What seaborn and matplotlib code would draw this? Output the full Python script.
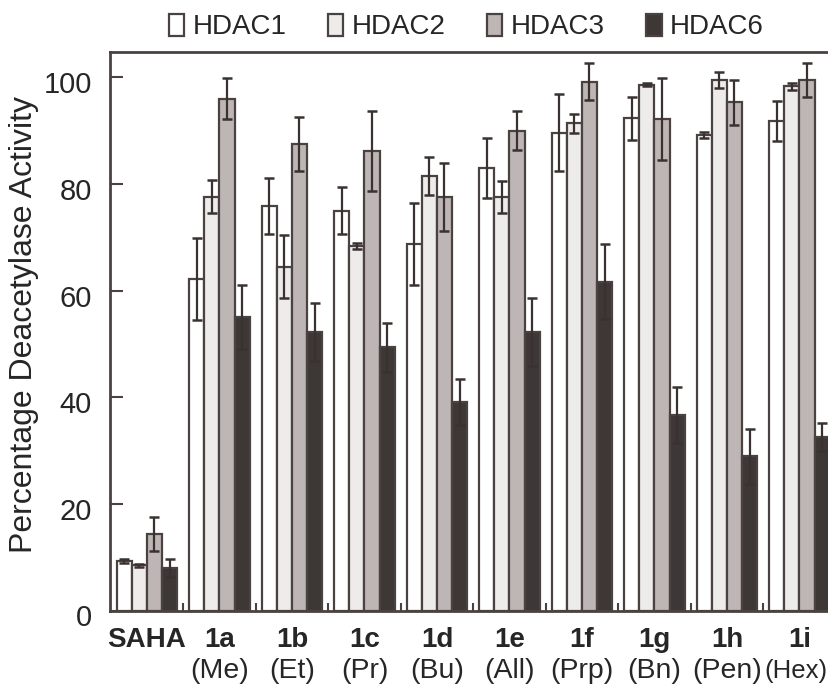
import matplotlib
matplotlib.use("Agg")
import matplotlib.pyplot as plt
import matplotlib.transforms as mtransforms
import seaborn as sns
import pandas as pd

# Chart values
compounds = ["SAHA", "1a", "1b", "1c", "1d", "1e", "1f", "1g", "1h", "1i"]
substituents = ["", "(Me)", "(Et)", "(Pr)", "(Bu)", "(All)", "(Prp)", "(Bn)", "(Pen)", "(Hex)"]
enzymes = ["HDAC1", "HDAC2", "HDAC3", "HDAC6"]

hdac1 = [9.3, 62.1, 75.9, 75.0, 68.8, 83.0, 89.6, 92.3, 89.2, 91.8]
hdac1_err = [0.3, 7.7, 5.3, 4.4, 7.7, 5.6, 7.2, 4.0, 0.5, 3.8]
hdac2 = [8.5, 77.6, 64.5, 68.4, 81.5, 77.6, 91.4, 98.6, 99.5, 98.3]
hdac2_err = [0.3, 3.1, 5.9, 0.6, 3.5, 3.0, 1.8, 0.3, 1.5, 0.7]
hdac3 = [14.3, 96.0, 87.5, 86.1, 77.6, 90.0, 99.2, 92.2, 95.3, 99.5]
hdac3_err = [3.2, 3.9, 5.0, 7.5, 6.4, 3.6, 3.5, 7.7, 4.2, 3.2]
hdac6 = [8.0, 55.0, 52.2, 49.4, 39.1, 52.2, 61.7, 36.7, 28.9, 32.6]
hdac6_err = [1.7, 6.0, 5.5, 4.6, 4.3, 6.4, 7.1, 5.2, 5.2, 2.6]

colors = ["#ffffff", "#eeeaea", "#bfb5b4", "#3e3634"]
edge = "#4a4240"

# long-form table for seaborn
values = [hdac1, hdac2, hdac3, hdac6]
errors = [hdac1_err, hdac2_err, hdac3_err, hdac6_err]
rows = []
for enz, vals, errs in zip(enzymes, values, errors):
    for comp, v, e in zip(compounds, vals, errs):
        rows.append({"compound": comp, "enzyme": enz, "value": v, "err": e})
df = pd.DataFrame(rows)

sns.set_style("ticks")
plt.rcParams["font.family"] = ["Liberation Sans", "DejaVu Sans"]

fig = plt.figure(figsize=(8.29, 6.91), dpi=100)
ax = fig.add_axes([110 / 829, 80.5 / 691, 735 / 829, 558.8 / 691])

sns.barplot(data=df, x="compound", y="value", hue="enzyme", order=compounds,
            hue_order=enzymes, palette=colors, width=0.83, gap=0,
            edgecolor=edge, linewidth=1.6, errorbar=None, ax=ax)

# symmetric error bars on top of each bar
for cont, errs in zip(ax.containers, errors):
    xs = [p.get_x() + p.get_width() / 2 for p in cont.patches]
    ys = [p.get_height() for p in cont.patches]
    ax.errorbar(xs, ys, yerr=errs, fmt="none", ecolor="#3a3230",
                elinewidth=1.6, capsize=3.6, capthick=1.8, zorder=5)

handles, labels = ax.get_legend_handles_labels()
ax.get_legend().remove()
fig.legend(handles, labels, loc="center", bbox_to_anchor=(0.5625, 0.961),
           ncol=4, frameon=False, fontsize=20, handlelength=0.55,
           handleheight=0.85, handletextpad=0.3, columnspacing=1.5)

ax.set_xlim(-0.51, -0.51 + 735 / 72.5)
ax.set_ylim(0, 104.8)
ax.set_yticks([0, 20, 40, 60, 80, 100])
ax.tick_params(axis="y", direction="in", length=9.5, width=1.5,
               labelsize=21, pad=13, color=edge)
ax.set_xticks(range(len(compounds)))
ax.set_xticklabels(compounds, fontweight="bold", fontsize=20)
ax.tick_params(axis="x", which="major", length=0, pad=12)
ax.set_xticks([i + 0.5 for i in range(len(compounds) - 1)], minor=True)
ax.tick_params(axis="x", which="minor", direction="in", length=6, width=1.5, color=edge)

# y labels sit a little below their ticks in the reference
for lab in ax.get_yticklabels():
    lab.set_transform(lab.get_transform() + mtransforms.ScaledTranslation(0, -0.05, fig.dpi_scale_trans))

# second line of the category labels; the last one is squeezed against the edge
trans = mtransforms.blended_transform_factory(ax.transData, ax.transAxes)
for i, s in enumerate(substituents):
    if s == "(Hex)":
        t = trans + mtransforms.ScaledTranslation(-0.04, 0, fig.dpi_scale_trans)
        ax.text(i, -0.108, s, transform=t, ha="center", va="center", fontsize=18.5)
    else:
        ax.text(i, -0.108, s, transform=trans, ha="center", va="center", fontsize=20.5)

ax.set_xlabel("")
ax.set_ylabel("")
fig.text(24 / 829, 0.53, "Percentage Deacetylase Activity", rotation=90,
         ha="center", va="center", fontsize=23)
for side in ["left", "bottom", "top"]:
    ax.spines[side].set_linewidth(2)
    ax.spines[side].set_color(edge)
ax.spines["right"].set_visible(False)

fig.savefig("out.png", dpi=100)
